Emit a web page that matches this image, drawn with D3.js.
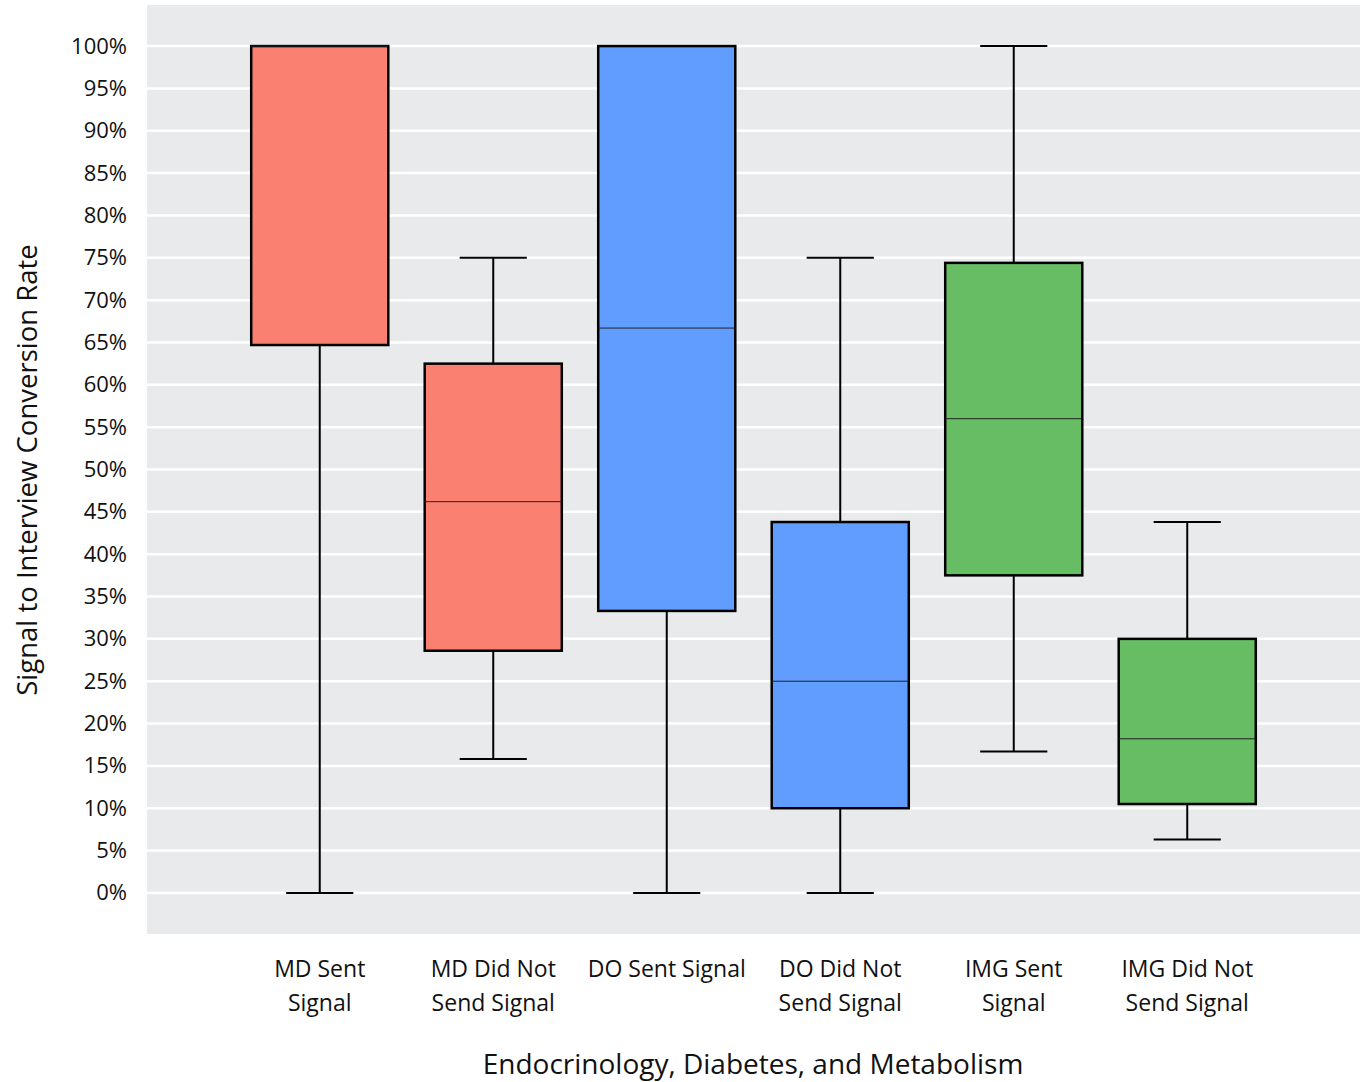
<!DOCTYPE html>
<html><head><meta charset="utf-8">
<script src="https://cdn.jsdelivr.net/npm/d3@7"></script>
<style>body{margin:0;background:#fff}svg{display:block}text{font-family:"Open Sans","Noto Sans",sans-serif;fill:#111}</style>
</head><body>
<svg id="c" width="1370" height="1082"></svg>
<script>
const categories = ["MD Sent Signal","MD Did Not Send Signal","DO Sent Signal","DO Did Not Send Signal","IMG Sent Signal","IMG Did Not Send Signal"];
const labelLines = [["MD Sent","Signal"],["MD Did Not","Send Signal"],["DO Sent Signal"],["DO Did Not","Send Signal"],["IMG Sent","Signal"],["IMG Did Not","Send Signal"]];
const mins    = [0, 15.8, 0, 0, 16.7, 6.3];
const q1s     = [64.7, 28.6, 33.3, 10, 37.5, 10.5];
const medians = [100, 46.2, 66.7, 25, 56.0, 18.2];
const q3s     = [100, 62.5, 100, 43.8, 74.4, 30.0];
const maxs    = [100, 75, 100, 75, 100, 43.8];
const groupColors = ["#FA8072","#FA8072","#619CFF","#619CFF","#66BD63","#66BD63"];
const yTicks = d3.range(0, 101, 5);

const svg = d3.select("#c");
const P = {l:147, r:1360, t:5, b:934};
const x = d3.scaleBand().domain(categories).range([233, 1274]);
const y = d3.scaleLinear().domain([-4.85, 104.85]).range([P.b, P.t]);

svg.append("rect").attr("x",P.l).attr("y",P.t).attr("width",P.r-P.l).attr("height",P.b-P.t).attr("fill","#E8EAEB");
svg.append("g").selectAll("line").data(yTicks).join("line")
  .attr("x1",P.l).attr("x2",P.r).attr("y1",d=>y(d)).attr("y2",d=>y(d))
  .attr("stroke","#fff").attr("stroke-width",2.5);

const yAxis = svg.append("g").attr("transform",`translate(${P.l},0)`)
  .call(d3.axisLeft(y).tickValues(yTicks).tickFormat(d=>d+"%").tickSize(0).tickPadding(20));
yAxis.select(".domain").remove();
yAxis.selectAll("text").attr("font-size",22).attr("font-family",'"Open Sans","Noto Sans",sans-serif').attr("fill","#111");

const bw = x.bandwidth()*0.79;
const cw = bw*0.49;
const g = svg.append("g").selectAll("g").data(categories).join("g");
const cx = d=>x(d)+x.bandwidth()/2;
g.append("line").attr("x1",cx).attr("x2",cx).attr("y1",(d,i)=>y(maxs[i])).attr("y2",(d,i)=>y(q3s[i])).attr("stroke","#000").attr("stroke-width",2);
g.append("line").attr("x1",cx).attr("x2",cx).attr("y1",(d,i)=>y(q1s[i])).attr("y2",(d,i)=>y(mins[i])).attr("stroke","#000").attr("stroke-width",2);
g.append("line").attr("x1",d=>cx(d)-cw/2).attr("x2",d=>cx(d)+cw/2).attr("y1",(d,i)=>y(maxs[i])).attr("y2",(d,i)=>y(maxs[i])).attr("stroke","#000").attr("stroke-width",2);
g.append("line").attr("x1",d=>cx(d)-cw/2).attr("x2",d=>cx(d)+cw/2).attr("y1",(d,i)=>y(mins[i])).attr("y2",(d,i)=>y(mins[i])).attr("stroke","#000").attr("stroke-width",2);
g.append("rect").attr("x",d=>cx(d)-bw/2).attr("width",bw)
  .attr("y",(d,i)=>y(q3s[i])).attr("height",(d,i)=>y(q1s[i])-y(q3s[i]))
  .attr("fill",(d,i)=>groupColors[i]).attr("stroke","#000").attr("stroke-width",2.5);
g.append("line").attr("x1",d=>cx(d)-bw/2).attr("x2",d=>cx(d)+bw/2).attr("y1",(d,i)=>y(medians[i])).attr("y2",(d,i)=>y(medians[i])).attr("stroke","#222").attr("stroke-width",1);

// x labels
const xl = svg.append("g").selectAll("text").data(categories).join("text")
  .attr("text-anchor","middle").attr("font-size",23);
xl.each(function(d,i){
  const t = d3.select(this);
  labelLines[i].forEach((ln,j)=>{
    t.append("tspan").attr("x",cx(d)).attr("y",977 + j*34).text(ln);
  });
});

svg.append("text").attr("x",753).attr("y",1074).attr("text-anchor","middle").attr("font-size",28).text("Endocrinology, Diabetes, and Metabolism");
svg.append("text").attr("transform","translate(37,470) rotate(-90)").attr("text-anchor","middle").attr("font-size",27.5).text("Signal to Interview Conversion Rate");
</script>
</body></html>
